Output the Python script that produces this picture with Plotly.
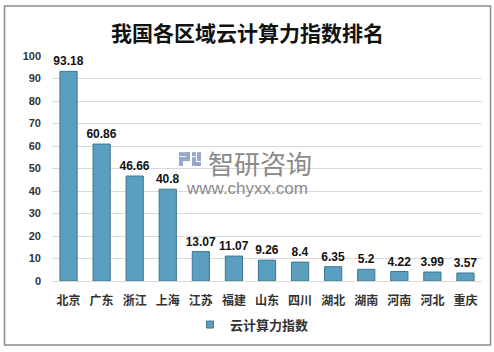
import plotly.graph_objects as go

categories = ["北京", "广东", "浙江", "上海", "江苏", "福建", "山东", "四川", "湖北", "湖南", "河南", "河北", "重庆"]
values = [93.18, 60.86, 46.66, 40.8, 13.07, 11.07, 9.26, 8.4, 6.35, 5.2, 4.22, 3.99, 3.57]
value_labels = ["93.18", "60.86", "46.66", "40.8", "13.07", "11.07", "9.26", "8.4", "6.35", "5.2", "4.22", "3.99", "3.57"]
series_name = "云计算力指数"
title_text = "我国各区域云计算力指数排名"
y_ticks = [0, 10, 20, 30, 40, 50, 60, 70, 80, 90, 100]

W, H = 494, 352
L, R, T, B = 52, 12, 56, 69
pw, ph = W - L - R, H - T - B

def px(x):
    return (x - L) / pw

def py(y):
    return (H - B - y) / ph

bar_color = "#5a9fc0"
font_cjk = "Noto Sans CJK SC, Liberation Sans"

fig = go.Figure()
fig.add_trace(go.Bar(
    x=categories, y=values, name=series_name, showlegend=False,
    text=value_labels, textposition="outside", cliponaxis=False, constraintext="none",
    textfont=dict(family="Liberation Sans, Arial", size=12, color="#111111", weight="bold"),
    marker=dict(color=bar_color, line=dict(color="#3d7690", width=1)),
    width=0.52,
))
# legend entry with small square marker
fig.add_trace(go.Scatter(
    x=[None], y=[None], mode="markers", name=series_name, showlegend=True,
    marker=dict(symbol="square", size=7, color=bar_color, line=dict(color="#3d7690", width=1)),
))

fig.update_layout(
    width=W, height=H,
    margin=dict(l=L, r=R, t=T, b=B),
    paper_bgcolor="white", plot_bgcolor="white",
    showlegend=True,
    legend=dict(orientation="h", x=px(190), xanchor="left", y=py(327), yanchor="middle",
                font=dict(family=font_cjk, size=13, color="#333333", weight="bold"),
                itemwidth=30, tracegroupgap=0),
    font=dict(family=font_cjk),
)
fig.update_xaxes(
    showgrid=False, showline=True, linecolor="#d9d9d9", linewidth=1,
    tickfont=dict(family=font_cjk, size=12, color="#333333", weight="bold"),
    ticks="", ticklabelstandoff=9,
)
fig.update_yaxes(
    range=[0, 100], tickvals=y_ticks, showgrid=True, gridcolor="#d9d9d9", gridwidth=1,
    zeroline=False, showline=False,
    tickfont=dict(family="Liberation Sans, Arial", size=11, color="#333333", weight="bold"),
    ticklabelstandoff=10,
)

# title
fig.add_annotation(text=title_text, x=px(247), y=py(32), xref="paper", yref="paper",
                   showarrow=False, xanchor="center", yanchor="middle",
                   font=dict(family=font_cjk, size=21, color="#111111", weight="bold"))

# watermark
fig.add_annotation(text="智研咨询", x=px(260), y=py(163), xref="paper", yref="paper",
                   showarrow=False, xanchor="center", yanchor="middle",
                   font=dict(family=font_cjk, size=26, color="#8a8a8a"))
fig.add_annotation(text="www.chyxx.com", x=px(247), y=py(190), xref="paper", yref="paper",
                   showarrow=False, xanchor="center", yanchor="middle",
                   font=dict(family="Liberation Sans, Arial", size=17, color="#8a8a8a"))

# logo approximation
logo_color = "#97a6cc"
for (x0, y0, x1, y1) in [(179, 153, 190, 157), (186, 153, 190, 162), (179, 158, 190, 162),
                         (179, 158, 183, 167), (192, 153, 196, 157), (192, 158, 196, 167),
                         (192, 163, 201, 167), (197, 153, 201, 162)]:
    fig.add_shape(type="rect", xref="paper", yref="paper",
                  x0=px(x0), x1=px(x1), y0=py(y0), y1=py(y1),
                  fillcolor=logo_color, line=dict(width=0), layer="above")

# border
fig.add_shape(type="rect", xref="paper", yref="paper",
              x0=px(4.5), x1=px(490.5), y0=py(5.5), y1=py(347.5),
              line=dict(color="#8c8c8c", width=1.5), fillcolor="rgba(0,0,0,0)")

fig.write_html("out.html")
